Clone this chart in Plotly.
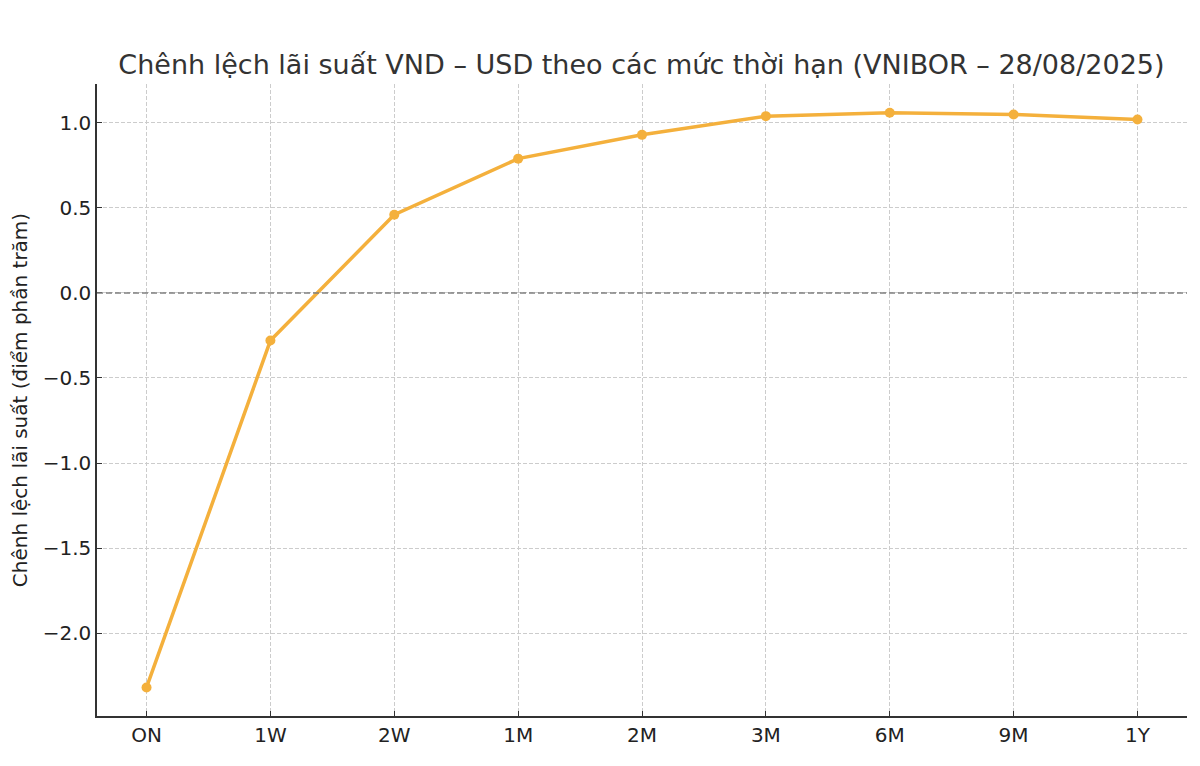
import plotly.graph_objects as go

# Data
tenors = ["ON", "1W", "2W", "1M", "2M", "3M", "6M", "9M", "1Y"]
spread = [-2.32, -0.28, 0.46, 0.79, 0.93, 1.04, 1.06, 1.05, 1.02]
y_ticks = [-2.0, -1.5, -1.0, -0.5, 0.0, 0.5, 1.0]
y_tick_text = ["\u22122.0", "\u22121.5", "\u22121.0", "\u22120.5", "0.0", "0.5", "1.0"]

line_color = "#F4B03C"
font_family = "DejaVu Sans"

fig = go.Figure()

fig.add_trace(go.Scatter(
    x=list(range(len(tenors))),
    y=spread,
    mode="lines+markers",
    line=dict(color=line_color, width=3.5),
    marker=dict(color=line_color, size=10),
    showlegend=False,
))

# zero reference line
fig.add_hline(y=0, line=dict(color="#808080", width=1.5, dash="6px,3px"))

# page body adds an 8px offset, so the figure is a bit smaller than the window
fig.update_layout(
    width=1184,
    height=750,
    paper_bgcolor="white",
    plot_bgcolor="white",
    font=dict(family=font_family, color="#222222", size=20),
    title=dict(
        text="Chênh lệch lãi suất VND – USD theo các mức thời hạn (VNIBOR – 28/08/2025)",
        x=0.535, xanchor="center", y=0.925, yanchor="middle",
        font=dict(size=27, color="#333333", family=font_family),
    ),
    margin=dict(l=89, r=5, t=76, b=42),
)

fig.update_xaxes(
    range=[-0.4, 8.4],
    tickmode="array",
    tickvals=list(range(len(tenors))),
    ticktext=tenors,
    showline=True, linecolor="#333333", linewidth=1.5,
    ticks="inside", ticklen=5, tickcolor="#333333",
    showgrid=True, gridcolor="#cccccc", griddash="4px,2px", gridwidth=1,
    zeroline=False,
    tickfont=dict(size=20),
)

fig.update_yaxes(
    range=[-2.488, 1.229],
    tickmode="array",
    tickvals=y_ticks,
    ticktext=y_tick_text,
    showline=True, linecolor="#333333", linewidth=1.5,
    ticks="inside", ticklen=5, tickcolor="#333333",
    showgrid=True, gridcolor="#cccccc", griddash="4px,2px", gridwidth=1,
    zeroline=False,
    tickfont=dict(size=20),
    title=dict(text="Chênh lệch lãi suất (điểm phần trăm)", font=dict(size=20), standoff=10),
)

fig.write_html("out.html")
